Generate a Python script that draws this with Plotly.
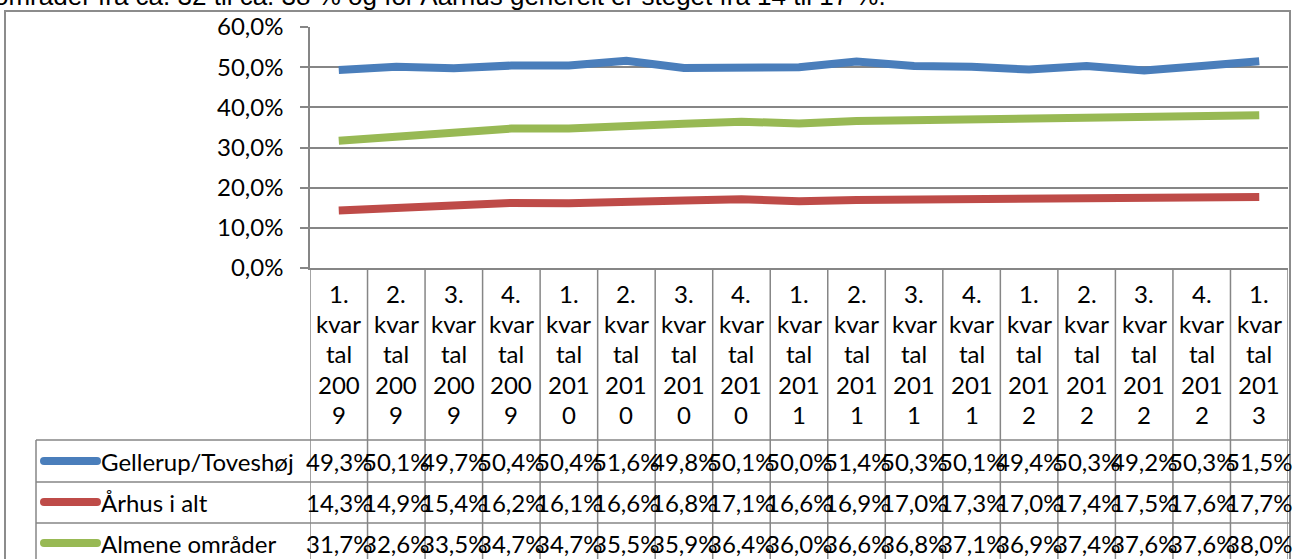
import plotly.graph_objects as go

# Quarterly shares (%) per area
quarters = ["1.", "2.", "3.", "4.", "1.", "2.", "3.", "4.", "1.", "2.", "3.", "4.", "1.", "2.", "3.", "4.", "1."]
years = ["2009"] * 4 + ["2010"] * 4 + ["2011"] * 4 + ["2012"] * 4 + ["2013"]

series_names = ["Gellerup/Toveshøj", "Århus i alt", "Almene områder"]
gellerup = [49.3, 50.1, 49.7, 50.4, 50.4, 51.6, 49.8, 50.1, 50.0, 51.4, 50.3, 50.1, 49.4, 50.3, 49.2, 50.3, 51.5]
aarhus = [14.3, 14.9, 15.4, 16.2, 16.1, 16.6, 16.8, 17.1, 16.6, 16.9, 17.0, 17.3, 17.0, 17.4, 17.5, 17.6, 17.7]
almene = [31.7, 32.6, 33.5, 34.7, 34.7, 35.5, 35.9, 36.4, 36.0, 36.6, 36.8, 37.1, 36.9, 37.4, 37.6, 37.6, 38.0]

heading = "områder fra ca. 32 til ca. 38 % og for Aarhus generelt er steget fra 14 til 17 %."

colors = ["#4A7EBB", "#BE4B48", "#98B954"]
grid_col = "#868686"
font_main = "Lato"
fs = 24

W, H = 1302, 559
L, R, T, B = 310, 1288, 27, 268   # plot area in pixels


def px(x):
    return (x - L) / (R - L)


def py(y):
    return (B - y) / (B - T)


def pct(v):
    return f"{v:.1f}%".replace(".", ",")


n = len(quarters)
xs = list(range(n))
all_series = [gellerup, aarhus, almene]

fig = go.Figure()
for name, vals, col in zip(series_names, all_series, colors):
    fig.add_trace(go.Scatter(
        x=xs, y=[v / 100 for v in vals], mode="lines", name=name,
        line=dict(color=col, width=8), showlegend=False, hoverinfo="skip",
    ))

shapes = []
annotations = []

# outer chart frame
shapes.append(dict(type="rect", xref="paper", yref="paper",
                   x0=px(5), x1=px(1290), y0=py(11), y1=py(580),
                   line=dict(color="#8c8c8c", width=2)))

# data table grid: column separators
for i in range(n + 1):
    shapes.append(dict(type="line", xref="x", yref="paper",
                       x0=i - 0.5, x1=i - 0.5, y0=py(268), y1=py(580),
                       line=dict(color=grid_col, width=1.5)))
# row separators
for yy in [440, 482, 523]:
    shapes.append(dict(type="line", xref="paper", yref="paper",
                       x0=px(36), x1=px(1290), y0=py(yy), y1=py(yy),
                       line=dict(color=grid_col, width=1.5)))
shapes.append(dict(type="line", xref="paper", yref="paper",
                   x0=px(36), x1=px(36), y0=py(440), y1=py(580),
                   line=dict(color=grid_col, width=1.5)))

# category header (wrapped the way the narrow columns wrap it)
line_ys = [293, 323, 353, 384, 414]
for i, (q, yr) in enumerate(zip(quarters, years)):
    parts = [q, "kvar", "tal", yr[:3], yr[3:]]
    for txt, yy in zip(parts, line_ys):
        annotations.append(dict(x=i, y=py(yy), xref="x", yref="paper",
                                text=txt, showarrow=False, xanchor="center",
                                yanchor="middle",
                                font=dict(family=font_main, size=fs, color="#000")))

# table rows: legend key, series name and values
row_ys = [461, 502, 543]
for name, vals, col, yy in zip(series_names, all_series, colors, row_ys):
    shapes.append(dict(type="line", xref="paper", yref="paper",
                       x0=px(44), x1=px(97), y0=py(yy), y1=py(yy),
                       line=dict(color=col, width=8)))
    for cx in (44, 97):
        shapes.append(dict(type="circle", xref="paper", yref="paper",
                           x0=px(cx - 4), x1=px(cx + 4), y0=py(yy - 4), y1=py(yy + 4),
                           fillcolor=col, line=dict(width=0)))
    annotations.append(dict(x=px(99), y=py(yy), xref="paper", yref="paper",
                            text=name, showarrow=False, xanchor="left", yanchor="middle",
                            font=dict(family=font_main, size=fs, color="#000")))
    for i, v in enumerate(vals):
        annotations.append(dict(x=i, y=py(yy), xref="x", yref="paper",
                                text=pct(v), showarrow=False, xanchor="center",
                                yanchor="middle",
                                font=dict(family=font_main, size=fs, color="#000")))

# text line above the chart frame
annotations.append(dict(x=px(-8), y=py(-4), xref="paper", yref="paper",
                        text=heading, showarrow=False, xanchor="left", yanchor="middle",
                        font=dict(family="Liberation Sans", size=26, color="#000")))

fig.update_layout(
    width=W, height=H,
    margin=dict(l=L, r=W - R, t=T, b=H - B),
    paper_bgcolor="white", plot_bgcolor="white",
    separators=",.",
    shapes=shapes, annotations=annotations,
    xaxis=dict(range=[-0.5, n - 0.5], showticklabels=False, showgrid=False,
               zeroline=False, showline=True, linecolor=grid_col, linewidth=1.5,
               ticks="", fixedrange=True),
    yaxis=dict(range=[0, 0.6], dtick=0.1, tickformat=".1%", showgrid=True,
               gridcolor=grid_col, gridwidth=1.5, zeroline=False,
               showline=True, linecolor=grid_col, linewidth=1.5,
               ticks="outside", ticklen=8, tickcolor=grid_col, tickwidth=1.5,
               ticklabelstandoff=12,
               tickfont=dict(family=font_main, size=fs, color="#000")),
)

fig.write_html("out.html")
